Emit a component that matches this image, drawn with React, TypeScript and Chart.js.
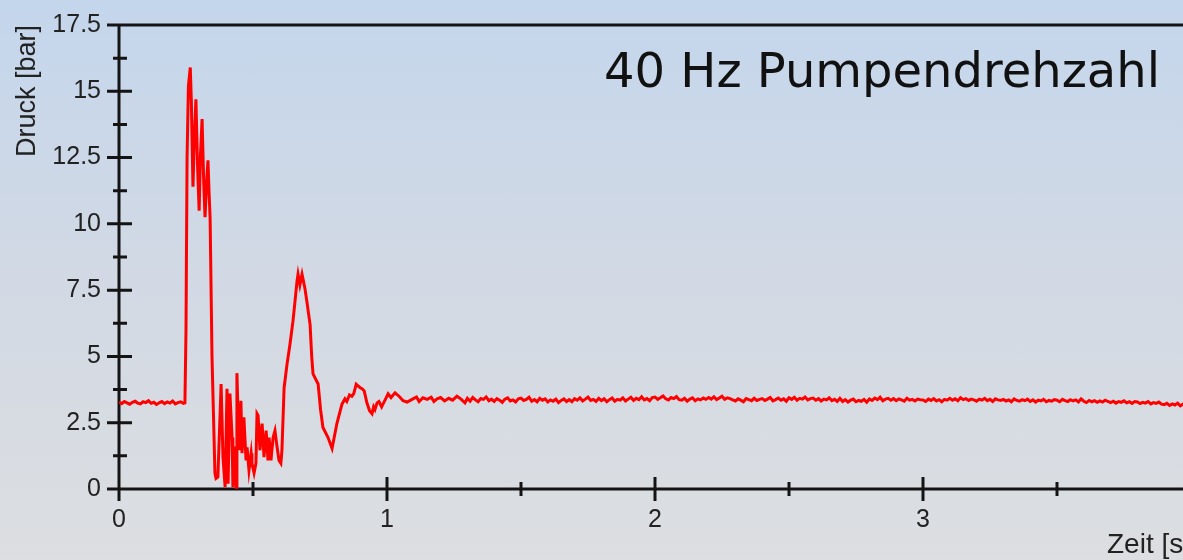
import React, { useEffect, useRef } from "react";
import { Chart, registerables } from "chart.js";

Chart.register(...registerables);

// ---------- text ----------
const CHART_TITLE = "40 Hz Pumpendrehzahl";
const X_TITLE = "Zeit [s]";
const Y_TITLE = "Druck [bar]";

// ---------- axes ----------
const X_MIN = 0;
const X_MAX = 4;
const X_STEP = 0.5;
const X_TICK_LABELS = ["0", "1", "2", "3", "4"];
const Y_MIN = 0;
const Y_MAX = 17.5;
const Y_STEP = 1.25;
const Y_TICK_LABELS = ["0", "2.5", "5", "7.5", "10", "12.5", "15", "17.5"];

// ---------- data ----------
const SAMPLE_STEP = 0.01; // s, sampling of the uniform segments

// before the valve event, t = 0 … 0.24 s
const preTriggerPressure = [
  3.28, 3.22, 3.3, 3.25, 3.2, 3.27, 3.31, 3.24, 3.21, 3.29, 3.26, 3.33, 3.23,
  3.27, 3.19, 3.25, 3.3, 3.22, 3.28, 3.24, 3.32, 3.21, 3.26, 3.29, 3.23,
];

// pressure surge, read point by point
const transientTime = [
  0.246, 0.25, 0.254, 0.259, 0.266, 0.27, 0.276, 0.281, 0.287, 0.293, 0.299,
  0.304, 0.31, 0.316, 0.321, 0.327, 0.332, 0.336, 0.34, 0.347, 0.358, 0.362,
  0.369, 0.381, 0.388, 0.396, 0.403, 0.407, 0.414, 0.422, 0.425, 0.433, 0.437,
  0.44, 0.448, 0.455, 0.459, 0.466, 0.474, 0.478, 0.485, 0.493, 0.496, 0.504,
  0.511, 0.515, 0.519, 0.526, 0.534, 0.541, 0.549, 0.556, 0.56, 0.567, 0.575,
  0.582, 0.59, 0.597, 0.604, 0.608, 0.616, 0.627, 0.638, 0.649, 0.656, 0.664,
  0.668, 0.675, 0.683, 0.694, 0.701, 0.713, 0.719, 0.724, 0.743, 0.752, 0.761,
  0.78, 0.795, 0.813, 0.832, 0.843, 0.85, 0.86, 0.869, 0.876, 0.885, 0.892,
  0.9, 0.907, 0.915, 0.925, 0.935, 0.944, 0.95, 0.955, 0.963, 0.97, 0.98,
  0.985, 0.995, 1.004, 1.015, 1.03, 1.045, 1.06, 1.075, 1.097, 1.11, 1.12,
  1.134, 1.15, 1.165, 1.175, 1.187, 1.2, 1.215, 1.23, 1.245, 1.261, 1.275,
  1.291,
];
const transientPressure = [
  3.25, 6.0, 12.5, 15.2, 15.9, 14.6, 11.4, 13.2, 14.7, 12.2, 10.5,
  12.6, 13.95, 11.6, 10.25, 11.6, 12.4, 11.2, 10.2, 5.0, 0.6, 0.4,
  0.45, 3.96, 1.2, 0.07, 3.78, 0.2, 3.6, 1.94, 0.07, 1.6, 0.07,
  4.37, 1.46, 3.33, 1.35, 2.7, 1.08, 1.57, 0.71, 1.35, 0.97, 0.6,
  0.97, 2.84, 2.77, 1.46, 2.47, 1.2, 2.2, 1.08, 1.94, 1.08, 1.94,
  2.2, 1.57, 1.08, 0.97, 1.46, 3.81, 4.71, 5.46, 6.32, 7.0, 7.82,
  8.1, 7.7, 8.1, 7.55, 7.07, 6.2, 5.0, 4.34, 3.96, 3.0, 2.32,
  1.94, 1.53, 2.47, 3.2, 3.4, 3.3, 3.55, 3.5, 3.6, 3.95, 3.89,
  3.82, 3.78, 3.7, 3.25, 2.95, 2.84, 3.1, 3.0, 3.25, 3.3, 3.1,
  3.2, 3.4, 3.59, 3.45, 3.63, 3.5, 3.33, 3.28, 3.4, 3.47, 3.3,
  3.44, 3.38, 3.46, 3.3, 3.4, 3.45, 3.32, 3.42, 3.35, 3.5, 3.4,
  3.25,
];

// steady state, t = 1.30 … 4.00 s
const STEADY_START = 1.3;
const steadyPressure = [
  3.42, 3.31, 3.45, 3.36, 3.29, 3.41, 3.38, 3.47, 3.33, 3.39,
  3.3, 3.41, 3.35, 3.27, 3.39, 3.44, 3.32, 3.36, 3.28, 3.4,
  3.43, 3.34, 3.38, 3.46, 3.31, 3.37, 3.29, 3.42, 3.35, 3.4,
  3.28, 3.36, 3.31, 3.39, 3.26, 3.34, 3.4, 3.3, 3.37, 3.29,
  3.41, 3.35, 3.44, 3.32, 3.39, 3.47, 3.34, 3.38, 3.3, 3.42,
  3.33, 3.4, 3.29, 3.37, 3.43, 3.31, 3.38, 3.35, 3.44, 3.32,
  3.39, 3.46, 3.34, 3.42, 3.37, 3.48, 3.36, 3.41, 3.33, 3.45,
  3.47, 3.38, 3.44, 3.51, 3.4, 3.36, 3.45, 3.41, 3.49, 3.37,
  3.35, 3.42, 3.31, 3.39, 3.44, 3.33, 3.4, 3.36, 3.43, 3.38,
  3.45, 3.39, 3.48, 3.37, 3.43, 3.5, 3.38, 3.44, 3.41, 3.36,
  3.32, 3.4, 3.35, 3.29, 3.41, 3.37, 3.33, 3.42, 3.34, 3.38,
  3.41, 3.34, 3.39, 3.45, 3.32, 3.37, 3.43, 3.35, 3.4, 3.31,
  3.44, 3.38, 3.46, 3.35, 3.42, 3.39, 3.47, 3.36, 3.41, 3.43,
  3.35, 3.41, 3.32, 3.39, 3.36, 3.44, 3.33, 3.38, 3.3, 3.42,
  3.3, 3.37, 3.28, 3.35, 3.39, 3.29, 3.34, 3.31, 3.38, 3.27,
  3.4, 3.34, 3.43, 3.37, 3.46, 3.33, 3.39, 3.42, 3.35, 3.41,
  3.33, 3.4, 3.36, 3.31, 3.42, 3.35, 3.38, 3.32, 3.39, 3.37,
  3.36, 3.3, 3.39, 3.34, 3.41, 3.32, 3.37, 3.29, 3.38, 3.35,
  3.42, 3.35, 3.4, 3.33, 3.44, 3.37, 3.41, 3.34, 3.39, 3.36,
  3.31, 3.39, 3.35, 3.42, 3.33, 3.38, 3.3, 3.4, 3.36, 3.34,
  3.38, 3.32, 3.36, 3.29, 3.4, 3.34, 3.31, 3.37, 3.33, 3.39,
  3.3, 3.36, 3.28, 3.35, 3.32, 3.38, 3.29, 3.34, 3.31, 3.37,
  3.35, 3.29, 3.38, 3.33, 3.3, 3.37, 3.32, 3.36, 3.28, 3.4,
  3.31, 3.26, 3.34, 3.29, 3.33, 3.27, 3.32, 3.28, 3.35, 3.3,
  3.26, 3.31, 3.24, 3.3, 3.27, 3.33, 3.25, 3.29, 3.23, 3.3,
  3.28, 3.22, 3.27, 3.24, 3.3, 3.21, 3.26, 3.23, 3.28, 3.2,
  3.18, 3.23, 3.15, 3.21, 3.17, 3.24, 3.14, 3.2, 3.16, 3.19,
  3.17,
];

const labelFor = (labels: string[], v: number) =>
  labels.find((l) => Math.abs(parseFloat(l) - v) < 1e-9) ?? "";

const axesPlugin = {
  id: "crossAxes",
  beforeDatasetsDraw(chart: any) {
    const { ctx, chartArea, scales } = chart;
    const { left, top, bottom } = chartArea;
    const xs = scales.x;
    const ys = scales.y;
    ctx.save();
    ctx.strokeStyle = "#141414";
    ctx.lineWidth = 3;
    ctx.lineCap = "butt";
    ctx.beginPath();
    ctx.moveTo(left, top);
    ctx.lineTo(chart.width, top);
    ctx.moveTo(left, top);
    ctx.lineTo(left, bottom);
    ctx.moveTo(left, bottom);
    ctx.lineTo(chart.width, bottom);
    ys.ticks.forEach((t: any) => {
      const py = ys.getPixelForValue(t.value);
      const major = labelFor(Y_TICK_LABELS, t.value) !== "";
      ctx.moveTo(left - (major ? 12 : 6), py);
      ctx.lineTo(left + (major ? 13 : 8), py);
    });
    xs.ticks.forEach((t: any) => {
      const px = xs.getPixelForValue(t.value);
      const major = labelFor(X_TICK_LABELS, t.value) !== "";
      ctx.moveTo(px, bottom - (major ? 12 : 7));
      ctx.lineTo(px, bottom + (major ? 12 : 7));
    });
    ctx.stroke();
    ctx.restore();
  },
  afterDraw(chart: any) {
    const { ctx, chartArea } = chart;
    ctx.save();
    ctx.font = '48px "DejaVu Sans"';
    ctx.fillStyle = "#111111";
    ctx.textAlign = "right";
    ctx.textBaseline = "alphabetic";
    ctx.fillText(CHART_TITLE, chartArea.right - 31, chartArea.top + 62);
    ctx.restore();
  },
};

export default function App() {
  const canvasRef = useRef<HTMLCanvasElement | null>(null);

  useEffect(() => {
    const canvas = canvasRef.current;
    if (!canvas) return;
    const points = [
      ...preTriggerPressure.map((p, i) => ({ x: +(i * SAMPLE_STEP).toFixed(3), y: p })),
      ...transientTime.map((t, i) => ({ x: t, y: transientPressure[i] })),
      ...steadyPressure.map((p, i) => ({
        x: +(STEADY_START + i * SAMPLE_STEP).toFixed(3),
        y: p,
      })),
    ];
    const tickFont = { family: '"Liberation Sans", Arial, sans-serif', size: 25 };
    const chart = new Chart(canvas, {
      type: "line",
      data: {
        datasets: [
          {
            data: points,
            borderColor: "#ff0000",
            borderWidth: 3,
            pointRadius: 0,
            tension: 0,
            fill: false,
          },
        ],
      },
      options: {
        responsive: false,
        animation: false,
        devicePixelRatio: 1,
        layout: { padding: { top: 9, right: 24, bottom: 0, left: 0 } },
        plugins: { legend: { display: false }, tooltip: { enabled: false } },
        scales: {
          x: {
            type: "linear",
            min: X_MIN,
            max: X_MAX,
            afterFit: (s: any) => {
              s.height = 71;
            },
            ticks: {
              stepSize: X_STEP,
              autoSkip: false,
              maxRotation: 0,
              padding: 8,
              color: "#222222",
              font: tickFont,
              callback: (v: any) => labelFor(X_TICK_LABELS, Number(v)),
            },
            grid: { display: false },
            border: { display: false },
            title: {
              display: true,
              text: X_TITLE,
              align: "end",
              color: "#222222",
              padding: 0,
              font: { family: '"Liberation Sans", Arial, sans-serif', size: 28, lineHeight: 1.07 },
            },
          },
          y: {
            type: "linear",
            min: Y_MIN,
            max: Y_MAX,
            afterFit: (s: any) => {
              s.width = 119;
            },
            ticks: {
              stepSize: Y_STEP,
              autoSkip: false,
              padding: 10,
              color: "#222222",
              font: tickFont,
              callback: (v: any) => labelFor(Y_TICK_LABELS, Number(v)),
            },
            grid: { display: false },
            border: { display: false },
            title: {
              display: true,
              text: Y_TITLE,
              align: "end",
              color: "#222222",
              padding: { top: 11, bottom: 0 },
              font: { family: '"Liberation Sans", Arial, sans-serif', size: 27 },
            },
          },
        },
      } as any,
      plugins: [axesPlugin],
    });
    return () => chart.destroy();
  }, []);

  return (
    <div
      style={{
        position: "fixed",
        left: 0,
        top: 0,
        width: 1183,
        height: 560,
        overflow: "hidden",
        background: "linear-gradient(to bottom, #c4d6ec 0%, #d2d9e4 50%, #dcdee1 100%)",
      }}
    >
      <canvas ref={canvasRef} width={1215} height={560} style={{ display: "block" }} />
    </div>
  );
}
